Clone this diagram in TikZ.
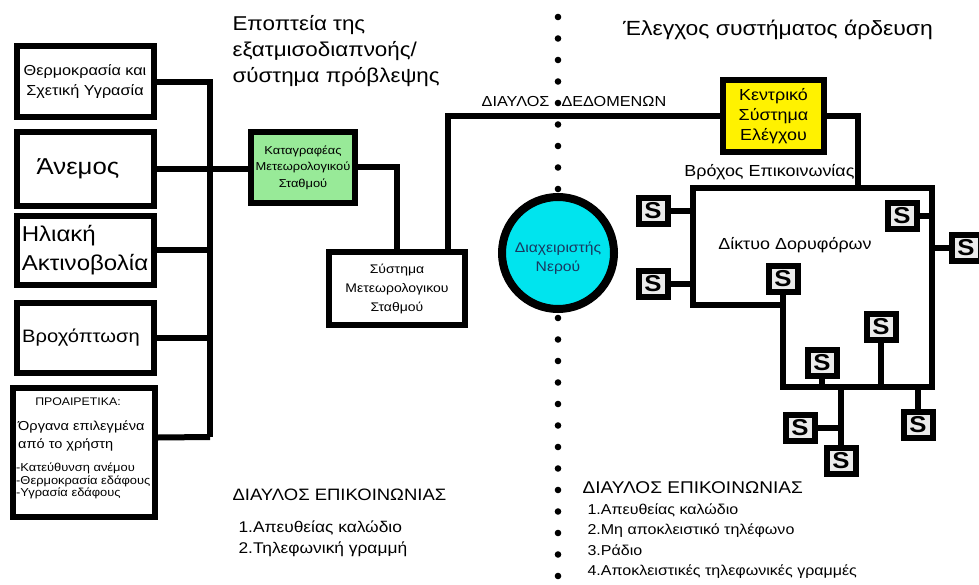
\documentclass[tikz,border=0pt]{standalone}
\usepackage{fontspec}
\setmainfont{Liberation Sans}[FakeStretch=1.12]
\definecolor{loggergreen}{RGB}{152,234,152}
\definecolor{ctrlyellow}{RGB}{255,242,0}
\definecolor{watercyan}{RGB}{0,228,238}
\definecolor{waterblue}{RGB}{25,55,95}
\newcommand{\fs}[2]{\fontsize{#1}{#2}\selectfont}

\begin{document}
\begin{tikzpicture}[x=1pt,y=-1pt,
	box/.style={draw=black, line width=6pt, fill=white, align=center, inner sep=0pt},
	sbox/.style={draw=black, line width=6pt, fill=black!8, minimum width=29pt, minimum height=26pt, inner sep=0pt, font=\fs{23}{23}\bfseries},
	wire/.style={line width=6pt},
	]
	\useasboundingbox (0,0) rectangle (979,585);

	% dotted divider
	\foreach \i in {0,...,26}
		\fill (558,17+21.5*\i) circle (3.3pt);

	% sensors
	\node[box, minimum width=137pt, minimum height=71pt, font=\fs{14.5}{20}] (thermo) at (85,82) {Θερμοκρασία και\\Σχετική Υγρασία};
	\node[box, minimum width=137pt, minimum height=74pt, font=\fs{23}{26}] (anemos) at (85,169) {Άνεμος\hspace*{14pt}};
	\node[box, minimum width=137pt, minimum height=69pt, align=left, font=\fs{21.5}{29}] (iliaki) at (85,250.5) {Ηλιακή\\Ακτινοβολία};
	\node[box, minimum width=137pt, minimum height=70pt, font=\fs{18}{22}] (vroxi) at (85,338) {Βροχόπτωση\hspace*{8pt}};
	\node[box, minimum width=142pt, minimum height=129pt] (optional) at (84,452.5) {};
	\node[font=\fs{11}{13}] (opthead) at (78,402) {ΠΡΟΑΙΡΕΤΙΚΑ:};
	\node[anchor=west, align=left, inner sep=0pt, font=\fs{13}{18}] (optuser) at (18,436) {Όργανα επιλεγμένα\\από το χρήστη};
	\node[anchor=west, align=left, inner sep=0pt, font=\fs{11.5}{12.5}] (optlist) at (16,481) {-Κατεύθυνση ανέμου\\-Θερμοκρασία εδάφους\\-Υγρασία εδάφους};

	% weather station
	\node[box, fill=loggergreen, minimum width=104pt, minimum height=71pt, font=\fs{11.5}{16.5}] (logger) at (303,167.5) {Καταγραφέας\\Μετεωρολογικού\\Σταθμού};
	\node[box, minimum width=136pt, minimum height=73pt, font=\fs{12.5}{19}] (station) at (397,288.5) {Σύστημα\\Μετεωρολογικου\\Σταθμού};

	\coordinate (bus) at (210,437);
	\draw[wire] (thermo.east) -| (bus);
	\draw[wire] (anemos.east) -- (anemos.east -| logger.west);
	\draw[wire] (iliaki.east) -- (iliaki.east -| bus);
	\draw[wire] (vroxi.east) -- (vroxi.east -| bus);
	\draw[wire] ([yshift=15pt]optional.east) -- (bus);
	\draw[wire] (logger.east) -| (station.north);

	% control system
	\node[box, fill=ctrlyellow, minimum width=101pt, minimum height=72pt, font=\fs{16}{20}] (central) at (773.5,116) {Κεντρικό\\Σύστημα\\Ελέγχου};
	\draw[wire] ([xshift=51pt]station.north) |- (central.west);
	\node[font=\fs{14.5}{16}] (datalabel) at (574,102) {ΔΙΑΥΛΟΣ\hspace{12pt}ΔΕΔΟΜΕΝΩΝ};

	\node[circle, draw=black, line width=8pt, fill=watercyan, minimum size=112pt, inner sep=0pt] (manager) at (558,253) {};
	\node[align=center, text=waterblue, font=\fs{14}{19}] (managertext) at (558,258) {Διαχειριστής\\Νερού};

	% communication loop
	\coordinate (lnw) at (693,188);
	\coordinate (lne) at (932,188);
	\coordinate (lse) at (932,387);
	\coordinate (lsm) at (783,387);
	\coordinate (lmid) at (783,305);
	\coordinate (lsw) at (693,305);
	\draw[wire] (central.east) -| (858,188);
	\draw[wire] (lnw) -- (lne) -- (lse) -- (lsm) -- (lmid) -- (lsw) -- cycle;

	\node[sbox] (s1) at (653,211) {S};
	\node[sbox] (s2) at (653,284) {S};
	\node[sbox] (s3) at (902,216) {S};
	\node[sbox] (s4) at (966,248) {S};
	\node[sbox] (s5) at (783,279) {S};
	\node[sbox] (s6) at (881,327) {S};
	\node[sbox] (s7) at (822,363) {S};
	\node[sbox] (s8) at (918,425) {S};
	\node[sbox] (s9) at (841,461) {S};
	\node[sbox] (s10) at (800,428) {S};
	\draw[wire] (s1.east) -- (s1.east -| lnw);
	\draw[wire] (s2.east) -- (s2.east -| lnw);
	\draw[wire] (s3.east) -- (s3.east -| lne);
	\draw[wire] (s4.west) -- (s4.west -| lne);
	\draw[wire] (s5.south) -- (lmid);
	\draw[wire] (s6.south) -- (s6.south |- lse);
	\draw[wire] (s7.south) -- (s7.south |- lse);
	\draw[wire] (s8.north) -- (s8.north |- lse);
	\draw[wire] (s9.north |- lse) -- (s9.north);
	\draw[wire] (s10.east) -- (s10.east -| s9.north);

	% titles and notes
	\node[anchor=west, align=left, font=\fs{20}{26}] (lefttitle) at (229,51) {Εποπτεία της\\εξατμισοδιαπνοής/\\σύστημα πρόβλεψης};
	\node[font=\fs{20.5}{24}] (righttitle) at (778,30) {Έλεγχος συστήματος άρδευση};
	\node[anchor=east, font=\fs{16}{18}] (looplabel) at (858,172) {Βρόχος Επικοινωνίας};
	\node[font=\fs{16}{18}] (netlabel) at (795,245) {Δίκτυο Δορυφόρων};

	\node[anchor=west, font=\fs{16.5}{20}] (leftchan) at (229,495) {ΔΙΑΥΛΟΣ ΕΠΙΚΟΙΝΩΝΙΑΣ};
	\node[anchor=west, align=left, font=\fs{15.5}{21}] (leftlist) at (235,538.5) {1.Απευθείας καλώδιο\\2.Τηλεφωνική γραμμή};
	\node[anchor=west, font=\fs{17}{20}] (rightchan) at (579,488) {ΔΙΑΥΛΟΣ ΕΠΙΚΟΙΝΩΝΙΑΣ};
	\node[anchor=west, align=left, font=\fs{14.3}{20.5}] (rightlist) at (584,541) {1.Απευθείας καλώδιο\\2.Μη αποκλειστικό τηλέφωνο\\3.Ράδιο\\4.Αποκλειστικές τηλεφωνικές γραμμές};
\end{tikzpicture}
\end{document}
